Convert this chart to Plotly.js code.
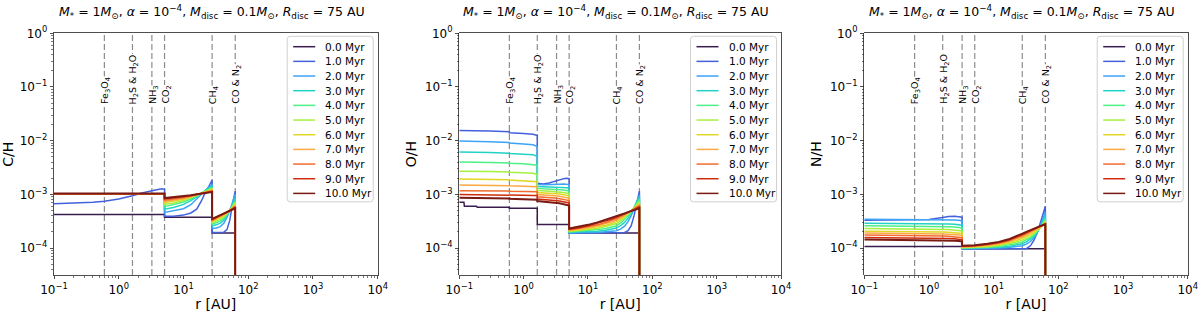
<!DOCTYPE html>
<html><head><meta charset="utf-8">
<script src="https://cdn.plot.ly/plotly-3.0.1.min.js"></script>
<style>html,body{margin:0;padding:0;background:#fff}#chart{width:1200px;height:312px}</style>
</head><body><div id="chart"></div>
<script>
// ---------- labels / categories ----------
const timeLabels = ['0.0 Myr','1.0 Myr','2.0 Myr','3.0 Myr','4.0 Myr','5.0 Myr','6.0 Myr','7.0 Myr','8.0 Myr','9.0 Myr','10.0 Myr'];
const lineColors = ['#3b1c4f','#4361dd','#3da3f5','#22d3c5','#4cf084','#a6f03f','#e2d624','#fca843','#f26b2d','#cf2a0a','#7a1a14'];
const iceLineRadii = [0.6, 1.63, 3.25, 5.1, 27.7, 63];
const iceLineLabels = ['Fe<sub>3</sub>O<sub>4</sub>','H<sub>2</sub>S &amp; H<sub>2</sub>O','NH<sub>3</sub>','CO<sub>2</sub>','CH<sub>4</sub>','CO &amp; N<sub>2</sub>'];
const xTickVals = [0.1, 1, 10, 100, 1000, 10000];
const xTickText = ['10<sup>\u22121</sup>','10<sup>0</sup>','10<sup>1</sup>','10<sup>2</sup>','10<sup>3</sup>','10<sup>4</sup>'];
const yTickVals = [1e-4, 1e-3, 1e-2, 1e-1, 1];
const yTickText = ['10<sup>\u22124</sup>','10<sup>\u22123</sup>','10<sup>\u22122</sup>','10<sup>\u22121</sup>','10<sup>0</sup>'];
const yAxisTitles = ['C/H','O/H','N/H'];
const panelTitle = '<i>M</i><sub>*</sub> = 1<i>M</i><sub>\u2299</sub>, <i>\u03b1</i> = 10<sup>\u22124</sup>, <i>M</i><sub>disc</sub> = 0.1<i>M</i><sub>\u2299</sub>, <i>R</i><sub>disc</sub> = 75 AU';

// ---------- C/H ----------
const rCH = [0.1,0.2,0.4,0.6,1.0,1.63,2.2,3.25,4.0,4.6,5.1, 5.1,7,10,13,16,19,22,25,27.7, 27.7,32,37,42,47,52,57,63, 63];
const CH_00 = [4.2e-4,4.2e-4,4.2e-4,4.2e-4,4.2e-4,4.2e-4,4.2e-4,4.2e-4,4.2e-4,4.2e-4,4.2e-4, 3.75e-4,3.75e-4,3.75e-4,3.75e-4,3.75e-4,3.75e-4,3.75e-4,3.75e-4,3.75e-4, 1.9e-4,1.9e-4,1.9e-4,1.9e-4,1.9e-4,1.9e-4,1.9e-4,1.9e-4, 1e-8];
const CH_01 = [6.7e-4,6.8e-4,7.1e-4,7.4e-4,8.2e-4,9.4e-4,1.05e-3,1.17e-3,1.24e-3,1.27e-3,1.24e-3, 3.9e-4,3.9e-4,4.1e-4,4.5e-4,5.3e-4,7.6e-4,1.12e-3,1.45e-3,1.85e-3, 1.95e-4,1.95e-4,1.95e-4,1.97e-4,2.2e-4,3.3e-4,6.5e-4,1.15e-3, 1e-8];
const CH_02 = [1.0e-3,1.0e-3,1.0e-3,1.0e-3,1.0e-3,1.0e-3,1.0e-3,1.0e-3,1.0e-3,1.0e-3,1.0e-3, 4.6e-4,4.9e-4,5.4e-4,6.4e-4,8.2e-4,1.05e-3,1.25e-3,1.4e-3,1.5e-3, 2.3e-4,2.35e-4,2.5e-4,2.9e-4,3.7e-4,5.0e-4,7.0e-4,1.0e-3, 1e-8];
const CH_03 = [1.0e-3,1.0e-3,1.0e-3,1.0e-3,1.0e-3,1.0e-3,1.0e-3,1.0e-3,1.0e-3,1.0e-3,1.0e-3, 5.3e-4,5.7e-4,6.5e-4,7.6e-4,9.0e-4,1.07e-3,1.2e-3,1.32e-3,1.4e-3, 2.6e-4,2.7e-4,2.9e-4,3.3e-4,4.0e-4,5.0e-4,6.4e-4,8.5e-4, 1e-8];
const CH_04 = [1.0e-3,1.0e-3,1.0e-3,1.0e-3,1.0e-3,1.0e-3,1.0e-3,1.0e-3,1.0e-3,1.0e-3,1.0e-3, 5.9e-4,6.4e-4,7.2e-4,8.2e-4,9.4e-4,1.07e-3,1.17e-3,1.26e-3,1.32e-3, 2.8e-4,2.95e-4,3.2e-4,3.6e-4,4.2e-4,5.0e-4,6.1e-4,7.5e-4, 1e-8];
const CH_05 = [1.01e-3,1.01e-3,1.01e-3,1.01e-3,1.01e-3,1.01e-3,1.01e-3,1.01e-3,1.01e-3,1.01e-3,1.01e-3, 6.5e-4,6.9e-4,7.7e-4,8.6e-4,9.6e-4,1.06e-3,1.15e-3,1.22e-3,1.27e-3, 2.95e-4,3.15e-4,3.45e-4,3.85e-4,4.35e-4,5.0e-4,5.9e-4,7.0e-4, 1e-8];
const CH_06 = [1.01e-3,1.01e-3,1.01e-3,1.01e-3,1.01e-3,1.01e-3,1.01e-3,1.01e-3,1.01e-3,1.01e-3,1.01e-3, 7.0e-4,7.4e-4,8.1e-4,8.9e-4,9.7e-4,1.05e-3,1.13e-3,1.19e-3,1.23e-3, 3.1e-4,3.35e-4,3.65e-4,4.0e-4,4.45e-4,5.0e-4,5.7e-4,6.5e-4, 1e-8];
const CH_07 = [1.02e-3,1.02e-3,1.02e-3,1.02e-3,1.02e-3,1.02e-3,1.02e-3,1.02e-3,1.02e-3,1.02e-3,1.02e-3, 7.4e-4,7.8e-4,8.4e-4,9.1e-4,9.8e-4,1.05e-3,1.11e-3,1.16e-3,1.19e-3, 3.2e-4,3.5e-4,3.8e-4,4.15e-4,4.55e-4,5.0e-4,5.55e-4,6.2e-4, 1e-8];
const CH_08 = [1.02e-3,1.02e-3,1.02e-3,1.02e-3,1.02e-3,1.02e-3,1.02e-3,1.02e-3,1.02e-3,1.02e-3,1.02e-3, 7.8e-4,8.1e-4,8.7e-4,9.3e-4,9.9e-4,1.04e-3,1.09e-3,1.13e-3,1.16e-3, 3.3e-4,3.6e-4,3.9e-4,4.25e-4,4.6e-4,5.0e-4,5.45e-4,6.0e-4, 1e-8];
const CH_09 = [1.03e-3,1.03e-3,1.03e-3,1.03e-3,1.03e-3,1.03e-3,1.03e-3,1.03e-3,1.03e-3,1.03e-3,1.03e-3, 8.2e-4,8.5e-4,9.0e-4,9.5e-4,9.9e-4,1.04e-3,1.08e-3,1.11e-3,1.13e-3, 3.4e-4,3.7e-4,4.0e-4,4.35e-4,4.65e-4,5.0e-4,5.35e-4,5.8e-4, 1e-8];
const CH_10 = [1.04e-3,1.04e-3,1.04e-3,1.04e-3,1.04e-3,1.04e-3,1.04e-3,1.04e-3,1.04e-3,1.04e-3,1.04e-3, 8.5e-4,8.8e-4,9.2e-4,9.6e-4,1.0e-3,1.03e-3,1.06e-3,1.08e-3,1.1e-3, 3.5e-4,3.8e-4,4.1e-4,4.4e-4,4.7e-4,4.95e-4,5.2e-4,5.5e-4, 1e-8];

// ---------- O/H ----------
const rOH = [0.1,0.118,0.12,0.185,0.19,0.3,0.6,0.6,1.0,1.4,1.63, 1.63,2.0,2.5,3.0,3.6,4.2,4.7,5.1, 5.1,7,10,14,19,24,27.7,32,37,42,47,52,57,63, 63];
const OH_00 = [7.1e-4,7.1e-4,6.0e-4,6.0e-4,5.75e-4,5.75e-4,5.75e-4,5.5e-4,5.5e-4,5.5e-4,5.5e-4, 2.75e-4,2.75e-4,2.75e-4,2.75e-4,2.75e-4,2.75e-4,2.75e-4,2.75e-4, 1.9e-4,1.9e-4,1.9e-4,1.9e-4,1.9e-4,1.9e-4,1.9e-4,1.9e-4,1.9e-4,1.9e-4,1.9e-4,1.9e-4,1.9e-4,1.9e-4, 1e-8];
const OH_01 = [1.55e-2,1.55e-2,1.55e-2,1.53e-2,1.53e-2,1.51e-2,1.46e-2,1.40e-2,1.36e-2,1.32e-2,1.25e-2, 1.60e-3,1.56e-3,1.62e-3,1.74e-3,1.87e-3,1.96e-3,2.0e-3,1.97e-3, 1.9e-4,1.9e-4,1.9e-4,1.9e-4,1.9e-4,1.9e-4,1.9e-4,1.9e-4,1.95e-4,2.1e-4,2.6e-4,4.0e-4,6.8e-4,1.15e-3, 1e-8];
const OH_02 = [9.8e-3,9.8e-3,9.8e-3,9.7e-3,9.7e-3,9.5e-3,9.2e-3,9.0e-3,8.7e-3,8.4e-3,7.8e-3, 1.52e-3,1.5e-3,1.5e-3,1.52e-3,1.54e-3,1.55e-3,1.55e-3,1.52e-3, 1.9e-4,1.95e-4,1.95e-4,1.95e-4,2.0e-4,2.05e-4,2.1e-4,2.25e-4,2.55e-4,3.1e-4,4.0e-4,5.4e-4,7.4e-4,9.8e-4, 1e-8];
const OH_03 = [6.15e-3,6.15e-3,6.15e-3,6.1e-3,6.1e-3,6.0e-3,5.85e-3,5.75e-3,5.6e-3,5.45e-3,5.1e-3, 1.40e-3,1.39e-3,1.38e-3,1.37e-3,1.36e-3,1.34e-3,1.32e-3,1.3e-3, 1.95e-4,2.0e-4,2.0e-4,2.05e-4,2.15e-4,2.25e-4,2.35e-4,2.6e-4,3.0e-4,3.6e-4,4.5e-4,5.7e-4,7.2e-4,8.8e-4, 1e-8];
const OH_04 = [4.0e-3,4.0e-3,4.0e-3,3.97e-3,3.97e-3,3.92e-3,3.85e-3,3.8e-3,3.72e-3,3.63e-3,3.49e-3, 1.29e-3,1.28e-3,1.26e-3,1.24e-3,1.22e-3,1.2e-3,1.17e-3,1.15e-3, 2.0e-4,2.05e-4,2.1e-4,2.2e-4,2.3e-4,2.45e-4,2.6e-4,2.9e-4,3.4e-4,4.0e-4,4.8e-4,5.7e-4,6.8e-4,8.0e-4, 1e-8];
const OH_05 = [2.7e-3,2.7e-3,2.7e-3,2.68e-3,2.68e-3,2.65e-3,2.6e-3,2.57e-3,2.52e-3,2.46e-3,2.35e-3, 1.18e-3,1.17e-3,1.15e-3,1.13e-3,1.11e-3,1.08e-3,1.05e-3,1.03e-3, 2.05e-4,2.1e-4,2.2e-4,2.3e-4,2.5e-4,2.7e-4,2.85e-4,3.2e-4,3.7e-4,4.25e-4,4.9e-4,5.6e-4,6.4e-4,7.3e-4, 1e-8];
const OH_06 = [1.92e-3,1.92e-3,1.92e-3,1.91e-3,1.91e-3,1.89e-3,1.86e-3,1.84e-3,1.8e-3,1.77e-3,1.71e-3, 1.08e-3,1.07e-3,1.05e-3,1.03e-3,1.01e-3,9.8e-4,9.5e-4,9.3e-4, 2.1e-4,2.15e-4,2.3e-4,2.45e-4,2.65e-4,2.9e-4,3.1e-4,3.45e-4,3.9e-4,4.4e-4,4.9e-4,5.5e-4,6.1e-4,6.8e-4, 1e-8];
const OH_07 = [1.49e-3,1.49e-3,1.49e-3,1.48e-3,1.48e-3,1.47e-3,1.45e-3,1.44e-3,1.42e-3,1.4e-3,1.38e-3, 9.9e-4,9.8e-4,9.6e-4,9.4e-4,9.2e-4,8.9e-4,8.6e-4,8.4e-4, 2.15e-4,2.25e-4,2.4e-4,2.6e-4,2.85e-4,3.1e-4,3.35e-4,3.65e-4,4.05e-4,4.5e-4,4.9e-4,5.4e-4,5.9e-4,6.4e-4, 1e-8];
const OH_08 = [1.17e-3,1.17e-3,1.17e-3,1.165e-3,1.165e-3,1.16e-3,1.15e-3,1.14e-3,1.13e-3,1.12e-3,1.12e-3, 9.0e-4,8.9e-4,8.7e-4,8.5e-4,8.3e-4,8.1e-4,7.8e-4,7.6e-4, 2.2e-4,2.3e-4,2.5e-4,2.7e-4,3.0e-4,3.3e-4,3.55e-4,3.85e-4,4.2e-4,4.55e-4,4.9e-4,5.3e-4,5.7e-4,6.1e-4, 1e-8];
const OH_09 = [9.9e-4,9.9e-4,9.9e-4,9.85e-4,9.85e-4,9.8e-4,9.7e-4,9.65e-4,9.6e-4,9.55e-4,9.5e-4, 8.2e-4,8.1e-4,7.9e-4,7.7e-4,7.5e-4,7.3e-4,7.1e-4,6.9e-4, 2.25e-4,2.35e-4,2.6e-4,2.85e-4,3.2e-4,3.5e-4,3.75e-4,4.0e-4,4.3e-4,4.6e-4,4.9e-4,5.2e-4,5.5e-4,5.8e-4, 1e-8];
const OH_10 = [8.6e-4,8.6e-4,8.6e-4,8.55e-4,8.55e-4,8.5e-4,8.4e-4,8.3e-4,8.2e-4,8.1e-4,7.9e-4, 7.5e-4,7.4e-4,7.2e-4,7.0e-4,6.8e-4,6.6e-4,6.4e-4,6.2e-4, 2.3e-4,2.45e-4,2.7e-4,3.0e-4,3.35e-4,3.7e-4,3.95e-4,4.15e-4,4.4e-4,4.65e-4,4.85e-4,5.1e-4,5.3e-4,5.5e-4, 1e-8];

// ---------- N/H ----------
const rNH = [0.1,0.3,0.6,1.0,1.63,2.0,2.5,2.9,3.25, 3.25,5.1,8,12,17,22,27.7,32,37,42,47,52,57,63, 63];
const NH_00 = [1.07e-4,1.07e-4,1.07e-4,1.07e-4,1.07e-4,1.07e-4,1.07e-4,1.07e-4,1.07e-4, 9.7e-5,9.7e-5,9.7e-5,9.7e-5,9.7e-5,9.7e-5,9.7e-5,9.7e-5,9.7e-5,9.7e-5,9.7e-5,9.7e-5,9.7e-5,9.7e-5, 1e-8];
const NH_01 = [3.3e-4,3.3e-4,3.32e-4,3.4e-4,3.7e-4,3.88e-4,3.9e-4,3.85e-4,3.75e-4, 9.6e-5,9.6e-5,9.6e-5,9.6e-5,9.6e-5,9.6e-5,9.6e-5,9.7e-5,1.1e-4,1.4e-4,1.9e-4,2.7e-4,4.0e-4,6.0e-4, 1e-8];
const NH_02 = [3.45e-4,3.44e-4,3.42e-4,3.4e-4,3.37e-4,3.35e-4,3.32e-4,3.28e-4,3.2e-4, 9.7e-5,9.7e-5,9.8e-5,1.0e-4,1.02e-4,1.05e-4,1.1e-4,1.18e-4,1.32e-4,1.55e-4,1.9e-4,2.5e-4,3.4e-4,4.7e-4, 1e-8];
const NH_03 = [2.9e-4,2.89e-4,2.87e-4,2.85e-4,2.82e-4,2.8e-4,2.77e-4,2.73e-4,2.66e-4, 9.8e-5,9.9e-5,1.0e-4,1.03e-4,1.07e-4,1.12e-4,1.2e-4,1.3e-4,1.45e-4,1.65e-4,1.95e-4,2.4e-4,3.0e-4,4.0e-4, 1e-8];
const NH_04 = [2.6e-4,2.59e-4,2.57e-4,2.55e-4,2.52e-4,2.5e-4,2.47e-4,2.43e-4,2.37e-4, 1.0e-4,1.01e-4,1.03e-4,1.07e-4,1.13e-4,1.2e-4,1.3e-4,1.41e-4,1.56e-4,1.75e-4,2.0e-4,2.35e-4,2.8e-4,3.5e-4, 1e-8];
const NH_05 = [2.3e-4,2.29e-4,2.27e-4,2.25e-4,2.22e-4,2.2e-4,2.17e-4,2.14e-4,2.08e-4, 1.01e-4,1.03e-4,1.06e-4,1.11e-4,1.19e-4,1.28e-4,1.4e-4,1.52e-4,1.67e-4,1.85e-4,2.07e-4,2.35e-4,2.7e-4,3.2e-4, 1e-8];
const NH_06 = [2.06e-4,2.05e-4,2.03e-4,2.01e-4,1.98e-4,1.96e-4,1.94e-4,1.91e-4,1.86e-4, 1.03e-4,1.05e-4,1.09e-4,1.16e-4,1.26e-4,1.37e-4,1.52e-4,1.64e-4,1.8e-4,1.97e-4,2.15e-4,2.38e-4,2.65e-4,3.05e-4, 1e-8];
const NH_07 = [1.9e-4,1.89e-4,1.87e-4,1.85e-4,1.82e-4,1.8e-4,1.78e-4,1.75e-4,1.7e-4, 1.05e-4,1.07e-4,1.12e-4,1.2e-4,1.32e-4,1.45e-4,1.62e-4,1.75e-4,1.92e-4,2.08e-4,2.25e-4,2.42e-4,2.62e-4,2.95e-4, 1e-8];
const NH_08 = [1.74e-4,1.73e-4,1.71e-4,1.69e-4,1.67e-4,1.65e-4,1.63e-4,1.6e-4,1.56e-4, 1.07e-4,1.09e-4,1.15e-4,1.24e-4,1.37e-4,1.52e-4,1.7e-4,1.85e-4,2.02e-4,2.18e-4,2.33e-4,2.47e-4,2.62e-4,2.85e-4, 1e-8];
const NH_09 = [1.57e-4,1.56e-4,1.55e-4,1.53e-4,1.51e-4,1.5e-4,1.48e-4,1.46e-4,1.42e-4, 1.08e-4,1.11e-4,1.18e-4,1.27e-4,1.41e-4,1.57e-4,1.78e-4,1.93e-4,2.1e-4,2.26e-4,2.39e-4,2.52e-4,2.64e-4,2.8e-4, 1e-8];
const NH_10 = [1.44e-4,1.43e-4,1.42e-4,1.41e-4,1.39e-4,1.38e-4,1.37e-4,1.35e-4,1.32e-4, 1.1e-4,1.13e-4,1.2e-4,1.3e-4,1.45e-4,1.62e-4,1.85e-4,2.0e-4,2.17e-4,2.32e-4,2.44e-4,2.56e-4,2.66e-4,2.75e-4, 1e-8];

// ---------- assemble ----------
const panels = [
  {r: rCH, series: [CH_00,CH_01,CH_02,CH_03,CH_04,CH_05,CH_06,CH_07,CH_08,CH_09,CH_10]},
  {r: rOH, series: [OH_00,OH_01,OH_02,OH_03,OH_04,OH_05,OH_06,OH_07,OH_08,OH_09,OH_10]},
  {r: rNH, series: [NH_00,NH_01,NH_02,NH_03,NH_04,NH_05,NH_06,NH_07,NH_08,NH_09,NH_10]}
];

const W = 1200, H = 312;
const panelPx = [[54, 377.7], [459.3, 781], [864.3, 1187.7]];
const plotTop = 33.3, plotBottom = 275;
const px = v => v / W;
const py = v => 1 - v / H;
const FONT = 'DejaVu Sans, sans-serif';
const TXT = '#000';

const data = [];
const layout = {
  width: W, height: H,
  margin: {l: 0, r: 0, t: 0, b: 0},
  paper_bgcolor: '#fff', plot_bgcolor: '#fff',
  showlegend: false,
  font: {family: FONT, color: TXT, size: 12},
  shapes: [], annotations: []
};

// minor tick positions (2..9 x 10^n)
const minorX = [], minorY = [];
for (let e = -1; e < 4; e++) for (let m = 2; m <= 9; m++) minorX.push(m * Math.pow(10, e));
for (let e = -5; e < 0; e++) for (let m = 2; m <= 9; m++) minorY.push(m * Math.pow(10, e));

panels.forEach((p, k) => {
  const sfx = k === 0 ? '' : String(k + 1);
  const xa = 'x' + sfx, ya = 'y' + sfx;
  p.series.forEach((ys, i) => {
    data.push({
      type: 'scatter', mode: 'lines', x: p.r, y: ys, xaxis: xa, yaxis: ya,
      name: timeLabels[i], showlegend: false, hoverinfo: 'skip',
      line: {color: lineColors[i], width: i === 10 ? 2 : 1.5}
    });
  });
  const [L, R] = panelPx[k];
  layout['xaxis' + sfx] = {
    type: 'log', domain: [px(L), px(R)], anchor: ya, range: [-1, 4],
    tickmode: 'array', tickvals: xTickVals, ticktext: xTickText,
    ticks: 'outside', ticklen: 3.5, tickwidth: 0.8, tickcolor: '#222',
    minor: {tickmode: 'array', tickvals: minorX, ticks: 'outside', ticklen: 2, tickwidth: 0.6, tickcolor: '#222', showgrid: false},
    showline: true, linecolor: '#222', linewidth: 0.8, mirror: true,
    showgrid: false, zeroline: false,
    tickfont: {family: FONT, size: 12, color: TXT},
    title: {text: 'r [AU]', font: {family: FONT, size: 14, color: TXT}, standoff: 4}
  };
  layout['yaxis' + sfx] = {
    type: 'log', domain: [py(plotBottom), py(plotTop)], anchor: xa, range: [-4.503, 0],
    tickmode: 'array', tickvals: yTickVals, ticktext: yTickText,
    ticks: 'outside', ticklen: 3.5, tickwidth: 0.8, tickcolor: '#222',
    minor: {tickmode: 'array', tickvals: minorY, ticks: 'outside', ticklen: 2, tickwidth: 0.6, tickcolor: '#222', showgrid: false},
    showline: true, linecolor: '#222', linewidth: 0.8, mirror: true,
    showgrid: false, zeroline: false,
    tickfont: {family: FONT, size: 12, color: TXT},
    title: {text: yAxisTitles[k], font: {family: FONT, size: 14, color: TXT}, standoff: 4}
  };

  // ice lines and their labels
  iceLineRadii.forEach((rv, j) => {
    layout.shapes.push({
      type: 'line', xref: xa, yref: ya + ' domain', x0: rv, x1: rv, y0: 0, y1: 1,
      line: {color: '#8c8c8c', width: 1.2, dash: '6px,3px'}, layer: 'below'
    });
    layout.annotations.push({
      xref: xa, yref: 'paper', x: Math.log10(rv), y: py(105),
      text: iceLineLabels[j], showarrow: false, textangle: -90,
      xanchor: 'center', yanchor: 'bottom', xshift: 1,
      bgcolor: '#fff', borderpad: 0,
      font: {family: FONT, size: 9.5, color: TXT}
    });
  });

  // panel title
  layout.annotations.push({
    xref: 'paper', yref: 'paper', x: px((L + R) / 2 - 4), y: py(12),
    text: panelTitle, showarrow: false, xanchor: 'center', yanchor: 'middle',
    font: {family: FONT, size: 12.5, color: TXT}
  });

  // legend box (inside plot, upper right)
  const bR = R - 4.5, bL = bR - 86, bT = plotTop + 3, bB = bT + 165.5, rad = 3;
  layout.shapes.push({
    type: 'path', xref: 'paper', yref: 'paper',
    path: `M ${px(bL + rad)},${py(bT)} L ${px(bR - rad)},${py(bT)} Q ${px(bR)},${py(bT)} ${px(bR)},${py(bT + rad)} ` +
          `L ${px(bR)},${py(bB - rad)} Q ${px(bR)},${py(bB)} ${px(bR - rad)},${py(bB)} ` +
          `L ${px(bL + rad)},${py(bB)} Q ${px(bL)},${py(bB)} ${px(bL)},${py(bB - rad)} ` +
          `L ${px(bL)},${py(bT + rad)} Q ${px(bL)},${py(bT)} ${px(bL + rad)},${py(bT)} Z`,
    line: {color: '#d0d0d0', width: 1}, fillcolor: 'rgba(255,255,255,0.8)', layer: 'above'
  });
  timeLabels.forEach((lab, i) => {
    const yy = bT + 10.4 + i * 14.67;
    layout.shapes.push({
      type: 'line', xref: 'paper', yref: 'paper',
      x0: px(bL + 6), x1: px(bL + 28), y0: py(yy), y1: py(yy),
      line: {color: lineColors[i], width: 1.5}, layer: 'above'
    });
    layout.annotations.push({
      xref: 'paper', yref: 'paper', x: px(bL + 36), y: py(yy),
      text: lab, showarrow: false, xanchor: 'left', yanchor: 'middle',
      font: {family: FONT, size: 10.5, color: TXT}
    });
  });
});

Plotly.newPlot('chart', data, layout, {displayModeBar: false, staticPlot: true});
</script>
</body></html>
